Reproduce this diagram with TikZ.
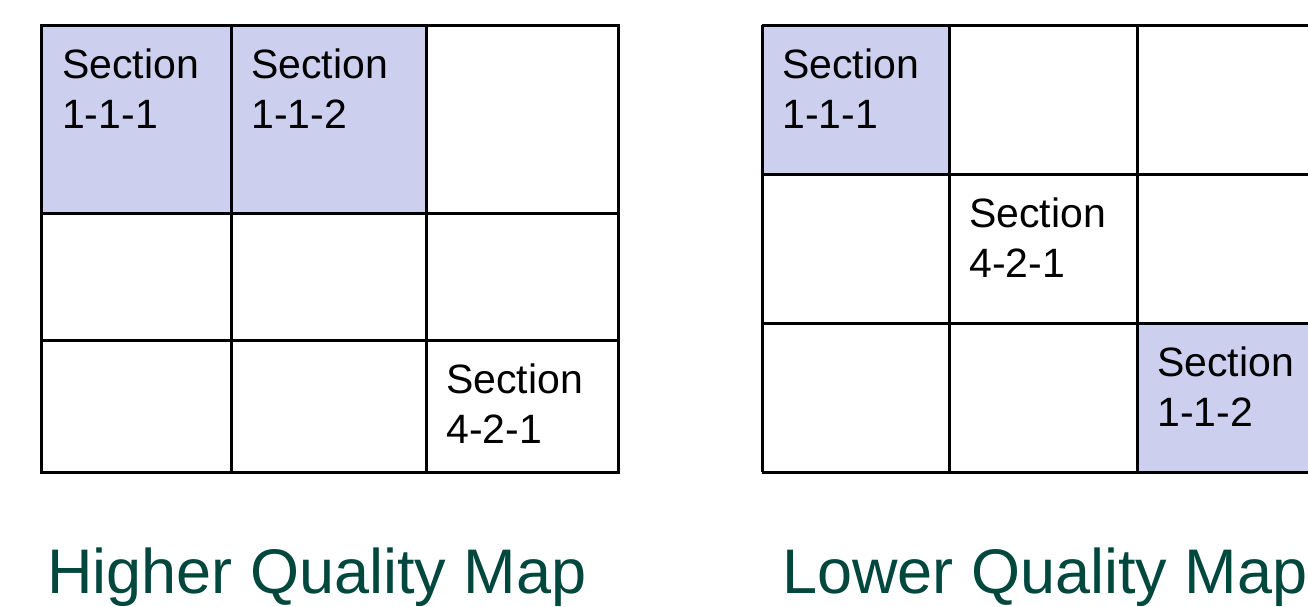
\documentclass[tikz,border=0pt]{standalone}
\usepackage{fontspec}
\setmainfont{Liberation Sans}
\definecolor{cellfill}{HTML}{CDCFEE}
\definecolor{titlecol}{HTML}{00473E}
\tikzset{
  gridline/.style={line width=3pt, draw=black},
  hilite/.style={fill=cellfill},
  celltext/.style={anchor=base west, inner sep=0pt, align=left, font=\fontsize{41}{50}\selectfont},
  titletext/.style={anchor=base west, inner sep=0pt, text=titlecol, font=\fontsize{63}{70}\selectfont}
}
\begin{document}
\begin{tikzpicture}[x=1pt,y=-1pt]
\useasboundingbox (0,0) rectangle (1308,606);
% ---- left grid ----
\fill[hilite] (41,25) rectangle (426,213);
\draw[gridline] (41,25) rectangle (618,472);
\foreach \x in {231,426} \draw[gridline] (\x,25) -- (\x,472);
\foreach \y in {213,340} \draw[gridline] (41,\y) -- (618,\y);
\node[celltext] (l11) at (62,128) {Section\\1-1-1};
\node[celltext] (l12) at (251,128) {Section\\1-1-2};
\node[celltext] (l421) at (446,443) {Section\\4-2-1};
\node[titletext] (ltitle) at (47,593) {Higher Quality Map};
% ---- right grid ----
\fill[hilite] (762,25) rectangle (949,174);
\fill[hilite] (1137,323) rectangle (1330,472);
\draw[gridline] (762,25) -- (1330,25);
\draw[gridline] (762,472) -- (1330,472);
\foreach \x in {762,949,1137} \draw[gridline] (\x,25) -- (\x,472);
\foreach \y in {174,323} \draw[gridline] (762,\y) -- (1330,\y);
\node[celltext] (r11) at (782,128) {Section\\1-1-1};
\node[celltext] (r421) at (969,277) {Section\\4-2-1};
\node[celltext] (r112) at (1157,426) {Section\\1-1-2};
\node[titletext] (rtitle) at (782,593) {Lower Quality Map};
\end{tikzpicture}
\end{document}
